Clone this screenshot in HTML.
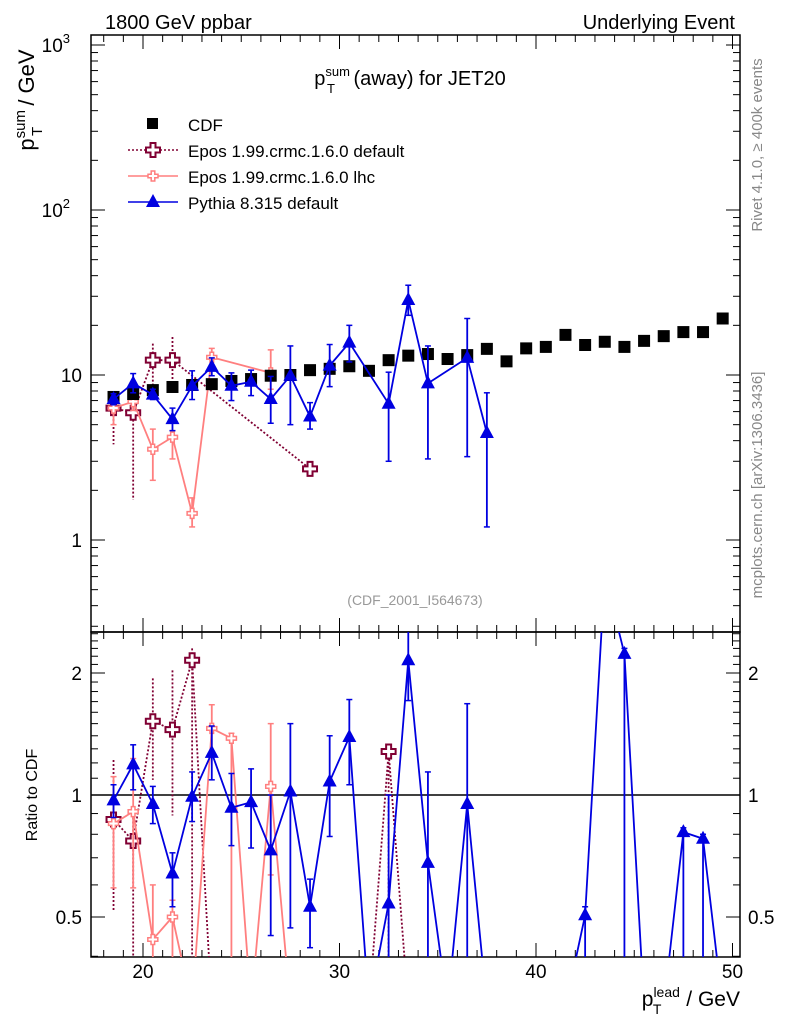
<!DOCTYPE html>
<html><head><meta charset="utf-8"><style>
html,body{margin:0;padding:0;background:#fff;overflow:hidden;width:786px;height:1024px;}
svg{display:block;font-family:"Liberation Sans",sans-serif;}
</style></head><body>
<svg id="c" width="786" height="1024" xmlns="http://www.w3.org/2000/svg">
<defs>
<clipPath id="cm"><rect x="91" y="35" width="649" height="597"/></clipPath>
<clipPath id="cr"><rect x="91" y="632" width="649" height="325"/></clipPath>
</defs>
<text x="105" y="29" font-size="20">1800 GeV ppbar</text>
<text x="735" y="29" font-size="20" text-anchor="end">Underlying Event</text>
<text transform="translate(762,145) rotate(-90)" font-size="15" fill="#888" text-anchor="middle">Rivet 4.1.0, ≥ 400k events</text>
<text transform="translate(762,485) rotate(-90)" font-size="15" fill="#888" text-anchor="middle">mcplots.cern.ch [arXiv:1306.3436]</text>
<text transform="translate(34,100) rotate(-90)" font-size="22" text-anchor="middle">p<tspan font-size="15" dy="-9">sum</tspan><tspan font-size="15" dx="-26" dy="17">T</tspan><tspan dy="-8" dx="15"> / GeV</tspan></text>
<text x="410" y="85" font-size="20" text-anchor="middle">p<tspan font-size="13" dy="-9">sum</tspan><tspan font-size="13" dx="-23" dy="17">T</tspan><tspan dy="-8" dx="13"> (away) for JET20</tspan></text>
<text x="415" y="605" font-size="14" fill="#999" text-anchor="middle">(CDF_2001_I564673)</text>
<text transform="translate(37,795) rotate(-90)" font-size="16" text-anchor="middle">Ratio to CDF</text>
<text x="740" y="1006" font-size="21" text-anchor="end">p<tspan font-size="14" dy="-9">lead</tspan><tspan font-size="14" dx="-27" dy="17">T</tspan><tspan dy="-8" dx="19"> / GeV</tspan></text>
<g id="legend">
<rect x="147" y="118" width="11" height="11" fill="#000"/>
<text x="188" y="131" font-size="17">CDF</text>
<line x1="128" y1="150" x2="178" y2="150" stroke="#800033" stroke-width="1.5" stroke-dasharray="2,2"/>
<text x="188" y="157" font-size="17">Epos 1.99.crmc.1.6.0 default</text>
<line x1="128" y1="176" x2="178" y2="176" stroke="#ff7f7f" stroke-width="1.5"/>
<text x="188" y="183" font-size="17">Epos 1.99.crmc.1.6.0 lhc</text>
<line x1="128" y1="202" x2="178" y2="202" stroke="#0000e0" stroke-width="1.5"/>
<text x="188" y="209" font-size="17">Pythia 8.315 default</text>
</g>
</svg>
<script>
const cdfX=[18.5,19.5,20.5,21.5,22.5,23.5,24.5,25.5,26.5,27.5,28.5,29.5,30.5,31.5,32.5,33.5,34.5,35.5,36.5,37.5,38.5,39.5,40.5,41.5,42.5,43.5,44.5,45.5,46.5,47.5,48.5,49.5];
const cdfY=[7.36,7.67,8.1,8.46,8.7,8.8,9.2,9.45,9.9,10,10.7,10.9,11.3,10.6,12.3,13.1,13.4,12.5,13.2,14.4,12.1,14.5,14.8,17.5,15.2,15.9,14.8,16.1,17.2,18.2,18.2,22];
const pyX=[18.5,19.5,20.5,21.5,22.5,23.5,24.5,25.5,26.5,27.5,28.5,29.5,30.5,32.5,33.5,34.5,36.5,37.5];
const pyY=[7.15,8.9,7.6,5.4,8.6,11.2,8.6,9.1,7.15,9.9,5.6,11.4,15.7,6.7,28.5,8.9,12.7,4.45];
const pyHi=[7.7,10.2,8.2,6.3,10.6,12.7,10.3,10.7,9.8,15,6.8,15.3,20,10.4,35,15,22,7.8];
const pyLo=[6.6,7.8,7.1,4.6,7.1,9.9,7.0,7.5,5.1,5.0,4.7,8.5,12,3.0,23,3.1,3.2,1.2];
const edX=[18.5,19.5,20.5,21.5,28.5];
const edY=[6.3,5.9,12.3,12.3,2.7];
const edHi=[8.0,7.5,15.5,17,2.9];
const edLo=[3.8,1.75,8.5,8.0,2.5];
const elX=[18.5,19.5,20.5,21.5,22.5,23.5,26.5];
const elY=[6.3,6.9,3.55,4.2,1.45,12.8,10.3];
const elHi=[7.6,7.8,4.7,4.6,1.8,14.5,14.2];
const elLo=[5.0,6.1,2.3,3.1,1.2,11.3,8.2];
const rpyX=[18.5,19.5,20.5,21.5,22.5,23.5,24.5,25.5,26.5,27.5,28.5,29.5,30.5,31.5,32.5,33.5,34.5,35.5,36.5,37.5,38.5,39.5,40.5,41.5,42.5,43.5,44.5,45.5,46.5,47.5,48.5,49.5];
const rpyY=[0.97,1.19,0.95,0.64,0.99,1.27,0.93,0.96,0.73,1.02,0.53,1.08,1.39,0.3,0.54,2.15,0.68,0.3,0.95,0.3,0.3,0.3,0.3,0.3,0.505,3.5,2.23,0.3,0.3,0.81,0.78,0.3];
const rpyHi=[1.06,1.33,1.05,0.72,1.14,1.48,1.13,1.16,1.0,1.5,0.62,1.4,1.72,0.3,1.0,2.8,1.14,0.3,1.68,0.3,0.3,0.3,0.3,0.3,0.53,3.5,2.3,0.3,0.3,0.83,0.8,0.3];
const rpyLo=[0.88,1.03,0.85,0.53,0.86,1.09,0.75,0.74,0.45,0.47,0.42,0.79,1.06,0.3,0.38,1.71,0.3,0.3,0.3,0.3,0.3,0.3,0.3,0.3,0.3,3.5,0.3,0.3,0.3,0.3,0.3,0.3];
const redX=[18.5,19.5,20.5,21.5,22.5,23.5,24.5,25.5,26.5,27.5,28.5,29.5,30.5,31.5,32.5,33.5];
const redY=[0.87,0.77,1.52,1.45,2.15,0.3,0.3,0.3,0.3,0.3,0.3,0.3,0.3,0.3,1.28,0.3];
const redHi=[1.22,0.9,1.94,2.03,2.3,0.3,0.3,0.3,0.3,0.3,0.3,0.3,0.3,0.3,1.32,0.3];
const redLo=[0.52,0.3,1.09,0.89,0.3,0.3,0.3,0.3,0.3,0.3,0.3,0.3,0.3,0.3,0.3,0.3];
const relX=[18.5,19.5,20.5,21.5,22.5,23.5,24.5,25.5,26.5,27.5];
const relY=[0.85,0.91,0.44,0.5,0.3,1.46,1.38,0.3,1.05,0.3];
const relHi=[1.11,1.23,0.6,0.55,0.3,1.67,1.42,0.3,1.5,0.3];
const relLo=[0.59,0.59,0.3,0.3,0.3,1.27,0.3,0.3,0.635,0.3];
const xTicks=[20,30,40,50];
const mainTickVals=[1,10,100,1000];
const mainTickLabels=["1","10","10","10"];
const mainTickExp=["","","2","3"];
const ratioTicks=[0.5,1,2];
const ratioTickLabels=["0.5","1","2"];

const X0=91,X1=740,MT=35,MB=632,RB=957;
const xs=v=>143+(v-20)*19.65;
const ym=v=>375-165*Math.log10(v/10);
const yr=v=>795-122*Math.log2(v);
const svg=document.getElementById('c');
const NS='http://www.w3.org/2000/svg';
function mk(tag,at,parent){const e=document.createElementNS(NS,tag);for(const k in at)e.setAttribute(k,at[k]);(parent||svg).appendChild(e);return e;}
let f=mk('rect',{x:X0,y:MT,width:X1-X0,height:MB-MT,fill:'none',stroke:'#000','stroke-width':1.5});


f=mk('rect',{x:X0,y:MB,width:X1-X0,height:RB-MB,fill:'none',stroke:'#000','stroke-width':1.5});


const ax=mk('g',{stroke:'#000','stroke-width':1});


for(let v=18;v<=50;v++){const x=xs(v);const L=v%10==0?14:7;
 [[MT,1],[MB,-1],[MB,1],[RB,-1]].forEach(([y,d])=>mk('line',{x1:x,x2:x,y1:y,y2:y+d*L},ax));}
xTicks.forEach((v,i)=>{const t=mk('text',{x:xs(v),y:978,'font-size':19,'text-anchor':'middle'});t.textContent=v;
 
 });
for(let d=-1;d<=3;d++)for(let m=1;m<10;m++){const v=m*Math.pow(10,d);const y=ym(v);if(y<MT||y>MB)continue;const L=m==1?14:7;
 mk('line',{x1:X0,x2:X0+L,y1:y,y2:y},ax);mk('line',{x1:X1,x2:X1-L,y1:y,y2:y},ax);}
mainTickVals.forEach((v,i)=>{const t=mk('text',{x:mainTickExp[i]?70:82,y:ym(v)+7,'font-size':19,'text-anchor':'end'});t.textContent=mainTickLabels[i];
 
 
 if(mainTickExp[i]){const s=mk('tspan',{'font-size':13,dy:-9});s.textContent=mainTickExp[i];t.appendChild(s);}});
[0.4,0.5,0.6,0.7,0.8,0.9,1,1.1,1.2,1.3,1.4,1.5,1.6,1.7,1.8,1.9,2,2.1,2.2,2.3,2.4,2.5].forEach(v=>{const y=yr(v);if(y<MB||y>RB)return;const L=(v==0.5||v==1||v==2)?14:7;
 mk('line',{x1:X0,x2:X0+L,y1:y,y2:y},ax);mk('line',{x1:X1,x2:X1-L,y1:y,y2:y},ax);});
ratioTicks.forEach((v,i)=>{[[82,'end'],[748,'start']].forEach(([x,a])=>{const t=mk('text',{x:x,y:yr(v)+7,'font-size':19,'text-anchor':a});t.textContent=ratioTickLabels[i];
 
 });});
let one=mk('line',{x1:X0,x2:X1,y1:yr(1),y2:yr(1),stroke:'#000','stroke-width':1.5});



function marker(g,type,x,y,col){
 if(type=='sq'){mk('rect',{x:x-6,y:y-6,width:12,height:12,fill:'#000'},g);}
 else if(type=='tri'){mk('polygon',{points:`${x},${y-8} ${x-7},${y+5} ${x+7},${y+5}`,fill:col},g);}
 else {const s=type=='cross'?7:5,w=type=='cross'?2.5:1.8;
  mk('path',{d:`M${x-w},${y-s}h${2*w}v${s-w}h${s-w}v${2*w}h${-(s-w)}v${s-w}h${-2*w}v${-(s-w)}h${-(s-w)}v${-2*w}h${s-w}z`,fill:'#fff',stroke:col,'stroke-width':type=='cross'?2:1.5},g);}
}
function series(name,clip,X,Y,Hi,Lo,yf,col,dash,type,line){
 const g=mk('g',{'clip-path':`url(#${clip})`});
 
 
 if(line){const p=mk('polyline',{points:X.map((x,i)=>xs(x)+','+yf(Y[i])).join(' '),fill:'none',stroke:col,'stroke-width':1.8},g);if(dash)p.setAttribute('stroke-dasharray','2,2');}
 X.forEach((x,i)=>{const cx=xs(x);
  if(Hi){const e=mk('line',{x1:cx,x2:cx,y1:yf(Hi[i]),y2:yf(Lo[i]),stroke:col,'stroke-width':1.8},g);if(dash)e.setAttribute('stroke-dasharray','2,2');
   if(!dash){mk('line',{x1:cx-3,x2:cx+3,y1:yf(Hi[i]),y2:yf(Hi[i]),stroke:col,'stroke-width':1.5},g);mk('line',{x1:cx-3,x2:cx+3,y1:yf(Lo[i]),y2:yf(Lo[i]),stroke:col,'stroke-width':1.5},g);}}
  marker(g,type,cx,yf(Y[i]),col);});
}
series('epos-default-series','cm',edX,edY,edHi,edLo,ym,'#800033',true,'cross',true);
series('epos-lhc-series','cm',elX,elY,elHi,elLo,ym,'#ff7f7f',false,'plus',true);
series('cdf-data','cm',cdfX,cdfY,null,null,ym,'#000',false,'sq',false);
series('pythia-series','cm',pyX,pyY,pyHi,pyLo,ym,'#0000e0',false,'tri',true);
series('ratio-epos-default','cr',redX,redY,redHi,redLo,yr,'#800033',true,'cross',true);
series('ratio-epos-lhc','cr',relX,relY,relHi,relLo,yr,'#ff7f7f',false,'plus',true);
series('ratio-pythia','cr',rpyX,rpyY,rpyHi,rpyLo,yr,'#0000e0',false,'tri',true);
const lg=document.getElementById('legend');
marker(lg,'cross',153,150,'#800033');
marker(lg,'plus',153,176,'#ff7f7f');
marker(lg,'tri',153,202,'#0000e0');
</script>
</body></html>
